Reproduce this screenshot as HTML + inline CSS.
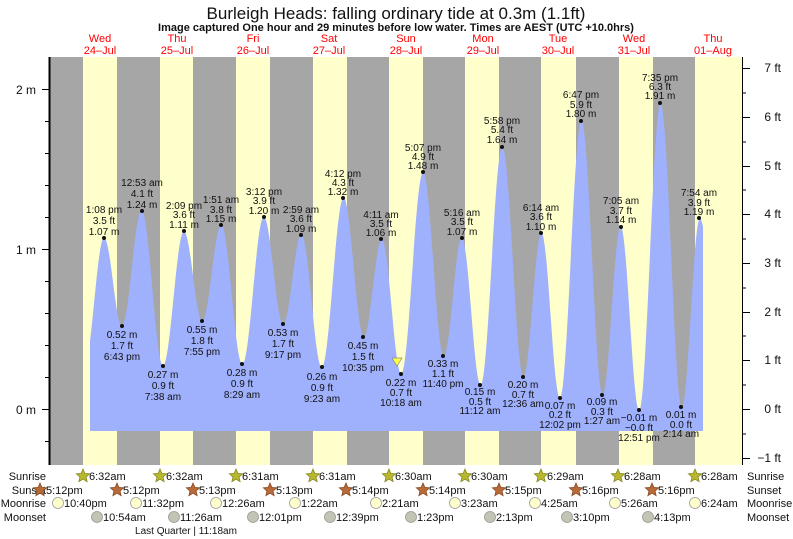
<!DOCTYPE html>
<html><head><meta charset="utf-8"><style>
body{margin:0;background:#fff;}
svg{display:block;font-family:"Liberation Sans",sans-serif;}
.l{font-size:10px;fill:#111;text-anchor:middle}
.r{font-size:11px;fill:#111}
</style></head><body>
<svg width="793" height="539" viewBox="0 0 793 539" xmlns="http://www.w3.org/2000/svg">
<defs>
<clipPath id="cp"><rect x="90" y="0" width="613" height="431"/></clipPath>
<polygon id="st" points="0,-7 1.88,-2.59 6.66,-2.16 3.04,0.99 4.11,5.66 0,3.2 -4.11,5.66 -3.04,0.99 -6.66,-2.16 -1.88,-2.59"/>
</defs>
<rect width="793" height="539" fill="#fff"/>
<text x="396" y="19" font-size="17" text-anchor="middle" fill="#111">Burleigh Heads: falling  ordinary tide at 0.3m (1.1ft)</text>
<text x="396" y="31" font-size="11" font-weight="bold" text-anchor="middle" fill="#111">Image captured One hour and 29 minutes before low water. Times are AEST (UTC +10.0hrs)</text>
<g font-size="11" fill="#f00" text-anchor="middle">
<text x="100" y="42">Wed</text><text x="100" y="54">24–Jul</text>
<text x="177" y="42">Thu</text><text x="177" y="54">25–Jul</text>
<text x="253" y="42">Fri</text><text x="253" y="54">26–Jul</text>
<text x="329" y="42">Sat</text><text x="329" y="54">27–Jul</text>
<text x="406" y="42">Sun</text><text x="406" y="54">28–Jul</text>
<text x="483" y="42">Mon</text><text x="483" y="54">29–Jul</text>
<text x="558" y="42">Tue</text><text x="558" y="54">30–Jul</text>
<text x="634" y="42">Wed</text><text x="634" y="54">31–Jul</text>
<text x="713" y="42">Thu</text><text x="713" y="54">01–Aug</text>
</g>
<rect x="50" y="57" width="692" height="408" fill="#ffffcc"/>
<g fill="#a6a6a6">
<rect x="50" y="57" width="33" height="408"/>
<rect x="117" y="57" width="43" height="408"/>
<rect x="193" y="57" width="43" height="408"/>
<rect x="270" y="57" width="43" height="408"/>
<rect x="347" y="57" width="42" height="408"/>
<rect x="423" y="57" width="42" height="408"/>
<rect x="499" y="57" width="42" height="408"/>
<rect x="576" y="57" width="43" height="408"/>
<rect x="653" y="57" width="42" height="408"/>
</g>
<path clip-path="url(#cp)" fill="#9fb0fc" d="M84.5,431 L84.5,364.2
C91.6,364.2 97.0,237.8 104.1,237.8
C110.5,237.8 115.5,325.8 121.9,325.8
C129.0,325.8 134.5,210.6 141.6,210.6
C149.3,210.6 155.4,365.8 163.1,365.8
C170.6,365.8 176.4,231.4 183.9,231.4
C190.5,231.4 195.7,321 202.3,321
C209.1,321 214.4,225 221.2,225
C228.8,225 234.8,364.2 242.4,364.2
C250.1,364.2 256.1,217 263.8,217
C270.8,217 276.2,324.2 283.2,324.2
C289.8,324.2 294.8,234.6 301.4,234.6
C308.7,234.6 314.5,367.4 321.8,367.4
C329.6,367.4 335.8,197.8 343.6,197.8
C350.9,197.8 356.6,337 363.9,337
C370.3,337 375.4,239.4 381.8,239.4
C388.8,239.4 394.3,373.8 401.3,373.8
C409.1,373.8 415.3,172.2 423.1,172.2
C430.6,172.2 436.4,356.2 443.9,356.2
C450.3,356.2 455.4,237.8 461.8,237.8
C468.6,237.8 473.9,385 480.7,385
C488.5,385 494.5,146.6 502.3,146.6
C509.9,146.6 515.9,377 523.5,377
C529.9,377 535.0,233 541.4,233
C548.1,233 553.2,397.8 559.9,397.8
C567.7,397.8 573.7,121 581.5,121
C589.1,121 595.1,394.6 602.7,394.6
C609.2,394.6 614.2,226.6 620.7,226.6
C627.3,226.6 632.5,410.6 639.1,410.6
C646.8,410.6 652.9,103.4 660.6,103.4
C668.2,103.4 674.2,407.4 681.8,407.4
C688.3,407.4 693.4,218.6 699.9,218.6
C706.9,218.6 712.3,345 719.3,345
L719.3,431 Z"/>
<line x1="49.5" y1="57" x2="49.5" y2="465" stroke="#000" stroke-width="2"/>
<line x1="742.5" y1="57" x2="742.5" y2="465" stroke="#000" stroke-width="1"/>
<g stroke="#000" stroke-width="1">
<line x1="42" y1="89.5" x2="49" y2="89.5"/><line x1="42" y1="249.5" x2="49" y2="249.5"/><line x1="42" y1="409.5" x2="49" y2="409.5"/>
<line x1="45" y1="121.5" x2="49" y2="121.5"/><line x1="45" y1="153.5" x2="49" y2="153.5"/><line x1="45" y1="185.5" x2="49" y2="185.5"/><line x1="45" y1="217.5" x2="49" y2="217.5"/>
<line x1="45" y1="281.5" x2="49" y2="281.5"/><line x1="45" y1="313.5" x2="49" y2="313.5"/><line x1="45" y1="345.5" x2="49" y2="345.5"/><line x1="45" y1="377.5" x2="49" y2="377.5"/><line x1="45" y1="441.5" x2="49" y2="441.5"/>
<line x1="743" y1="68.5" x2="750" y2="68.5"/><line x1="743" y1="117.5" x2="750" y2="117.5"/><line x1="743" y1="166.5" x2="750" y2="166.5"/><line x1="743" y1="214.5" x2="750" y2="214.5"/><line x1="743" y1="263.5" x2="750" y2="263.5"/><line x1="743" y1="312.5" x2="750" y2="312.5"/><line x1="743" y1="360.5" x2="750" y2="360.5"/><line x1="743" y1="409.5" x2="750" y2="409.5"/><line x1="743" y1="458.5" x2="750" y2="458.5"/>
<line x1="743" y1="93" x2="746" y2="93"/><line x1="743" y1="142" x2="746" y2="142"/><line x1="743" y1="190" x2="746" y2="190"/><line x1="743" y1="239" x2="746" y2="239"/><line x1="743" y1="288" x2="746" y2="288"/><line x1="743" y1="336" x2="746" y2="336"/><line x1="743" y1="385" x2="746" y2="385"/><line x1="743" y1="434" x2="746" y2="434"/>
</g>
<g font-size="12" fill="#111" text-anchor="end">
<text x="36" y="94">2 m</text><text x="36" y="254">1 m</text><text x="36" y="414">0 m</text>
</g>
<g font-size="12" fill="#111" text-anchor="end">
<text x="781" y="72">7 ft</text><text x="781" y="121">6 ft</text><text x="781" y="170">5 ft</text><text x="781" y="218">4 ft</text><text x="781" y="267">3 ft</text><text x="781" y="316">2 ft</text><text x="781" y="364">1 ft</text><text x="781" y="413">0 ft</text><text x="781" y="462">−1 ft</text>
</g>
<polygon points="392,358 402,358 397,366" fill="#ffff44" stroke="#888" stroke-width="0.7"/>
<g class="l">
<circle cx="104" cy="238" r="2"/><text x="104" y="213">1:08 pm</text><text x="104" y="224">3.5 ft</text><text x="104" y="235">1.07 m</text>
<circle cx="122" cy="326" r="2"/><text x="122" y="338">0.52 m</text><text x="122" y="349">1.7 ft</text><text x="122" y="360">6:43 pm</text>
<circle cx="142" cy="211" r="2"/><text x="142" y="186">12:53 am</text><text x="142" y="197">4.1 ft</text><text x="142" y="208">1.24 m</text>
<circle cx="163" cy="366" r="2"/><text x="163" y="378">0.27 m</text><text x="163" y="389">0.9 ft</text><text x="163" y="400">7:38 am</text>
<circle cx="184" cy="231" r="2"/><text x="184" y="209">2:09 pm</text><text x="184" y="218">3.6 ft</text><text x="184" y="228">1.11 m</text>
<circle cx="202" cy="321" r="2"/><text x="202" y="333">0.55 m</text><text x="202" y="344">1.8 ft</text><text x="202" y="355">7:55 pm</text>
<circle cx="221" cy="225" r="2"/><text x="221" y="203">1:51 am</text><text x="221" y="213">3.8 ft</text><text x="221" y="222">1.15 m</text>
<circle cx="242" cy="364" r="2"/><text x="242" y="376">0.28 m</text><text x="242" y="387">0.9 ft</text><text x="242" y="398">8:29 am</text>
<circle cx="264" cy="217" r="2"/><text x="264" y="195">3:12 pm</text><text x="264" y="204">3.9 ft</text><text x="264" y="214">1.20 m</text>
<circle cx="283" cy="324" r="2"/><text x="283" y="336">0.53 m</text><text x="283" y="347">1.7 ft</text><text x="283" y="358">9:17 pm</text>
<circle cx="301" cy="235" r="2"/><text x="301" y="213">2:59 am</text><text x="301" y="222">3.6 ft</text><text x="301" y="232">1.09 m</text>
<circle cx="322" cy="367" r="2"/><text x="322" y="380">0.26 m</text><text x="322" y="391">0.9 ft</text><text x="322" y="402">9:23 am</text>
<circle cx="343" cy="198" r="2"/><text x="343" y="177">4:12 pm</text><text x="343" y="186">4.3 ft</text><text x="343" y="195">1.32 m</text>
<circle cx="363" cy="337" r="2"/><text x="363" y="349">0.45 m</text><text x="363" y="360">1.5 ft</text><text x="363" y="371">10:35 pm</text>
<circle cx="381" cy="239" r="2"/><text x="381" y="218">4:11 am</text><text x="381" y="227">3.5 ft</text><text x="381" y="236">1.06 m</text>
<circle cx="401" cy="374" r="2"/><text x="401" y="386">0.22 m</text><text x="401" y="396">0.7 ft</text><text x="401" y="406">10:18 am</text>
<circle cx="423" cy="172" r="2"/><text x="423" y="151">5:07 pm</text><text x="423" y="160">4.9 ft</text><text x="423" y="169">1.48 m</text>
<circle cx="443" cy="356" r="2"/><text x="443" y="367">0.33 m</text><text x="443" y="377">1.1 ft</text><text x="443" y="387">11:40 pm</text>
<circle cx="462" cy="238" r="2"/><text x="462" y="216">5:16 am</text><text x="462" y="225">3.5 ft</text><text x="462" y="235">1.07 m</text>
<circle cx="480" cy="385" r="2"/><text x="480" y="395">0.15 m</text><text x="480" y="405">0.5 ft</text><text x="480" y="414">11:12 am</text>
<circle cx="502" cy="147" r="2"/><text x="502" y="124">5:58 pm</text><text x="502" y="133">5.4 ft</text><text x="502" y="143">1.64 m</text>
<circle cx="523" cy="377" r="2"/><text x="523" y="388">0.20 m</text><text x="523" y="398">0.7 ft</text><text x="523" y="407">12:36 am</text>
<circle cx="541" cy="233" r="2"/><text x="541" y="211">6:14 am</text><text x="541" y="220">3.6 ft</text><text x="541" y="230">1.10 m</text>
<circle cx="560" cy="398" r="2"/><text x="560" y="409">0.07 m</text><text x="560" y="418">0.2 ft</text><text x="560" y="428">12:02 pm</text>
<circle cx="581" cy="121" r="2"/><text x="581" y="98">6:47 pm</text><text x="581" y="108">5.9 ft</text><text x="581" y="117">1.80 m</text>
<circle cx="602" cy="395" r="2"/><text x="602" y="405">0.09 m</text><text x="602" y="415">0.3 ft</text><text x="602" y="424">1:27 am</text>
<circle cx="621" cy="227" r="2"/><text x="621" y="204">7:05 am</text><text x="621" y="214">3.7 ft</text><text x="621" y="223">1.14 m</text>
<circle cx="639" cy="410" r="2"/><text x="639" y="421">−0.01 m</text><text x="639" y="431">−0.0 ft</text><text x="639" y="441">12:51 pm</text>
<circle cx="660" cy="103" r="2"/><text x="660" y="81">7:35 pm</text><text x="660" y="90">6.3 ft</text><text x="660" y="99">1.91 m</text>
<circle cx="681" cy="407" r="2"/><text x="681" y="418">0.01 m</text><text x="681" y="428">0.0 ft</text><text x="681" y="437">2:14 am</text>
<circle cx="699" cy="218" r="2"/><text x="699" y="196">7:54 am</text><text x="699" y="206">3.9 ft</text><text x="699" y="215">1.19 m</text>
</g>
<g class="r">
<text x="46" y="480" text-anchor="end">Sunrise</text>
<text x="46" y="494" text-anchor="end">Sunset</text>
<text x="46" y="507" text-anchor="end">Moonrise</text>
<text x="46" y="521" text-anchor="end">Moonset</text>
<text x="747" y="480">Sunrise</text><text x="747" y="494">Sunset</text><text x="747" y="507">Moonrise</text><text x="747" y="521">Moonset</text>
<text x="186" y="534" text-anchor="middle" font-size="10">Last Quarter | 11:18am</text>
</g>
<g fill="#b8b830" stroke="#888820" stroke-width="0.8">
<use href="#st" x="83" y="476"/><use href="#st" x="160" y="476"/><use href="#st" x="236" y="476"/><use href="#st" x="313" y="476"/><use href="#st" x="389" y="476"/><use href="#st" x="465" y="476"/><use href="#st" x="541" y="476"/><use href="#st" x="618" y="476"/><use href="#st" x="695" y="476"/>
</g>
<g fill="#b86a38" stroke="#884a20" stroke-width="0.8">
<use href="#st" x="40" y="490"/><use href="#st" x="117" y="490"/><use href="#st" x="193" y="490"/><use href="#st" x="270" y="490"/><use href="#st" x="346" y="490"/><use href="#st" x="423" y="490"/><use href="#st" x="499" y="490"/><use href="#st" x="576" y="490"/><use href="#st" x="652" y="490"/>
</g>
<g fill="#ffffcc" stroke="#999" stroke-width="0.8">
<circle cx="58" cy="503" r="5.5"/><circle cx="136" cy="503" r="5.5"/><circle cx="216" cy="503" r="5.5"/><circle cx="295" cy="503" r="5.5"/><circle cx="376" cy="503" r="5.5"/><circle cx="455" cy="503" r="5.5"/><circle cx="535" cy="503" r="5.5"/><circle cx="615" cy="503" r="5.5"/><circle cx="695" cy="503" r="5.5"/>
</g>
<g fill="#c4c4b4" stroke="#999" stroke-width="0.8">
<circle cx="97" cy="517" r="5.5"/><circle cx="174" cy="517" r="5.5"/><circle cx="253" cy="517" r="5.5"/><circle cx="330" cy="517" r="5.5"/><circle cx="411" cy="517" r="5.5"/><circle cx="490" cy="517" r="5.5"/><circle cx="567" cy="517" r="5.5"/><circle cx="648" cy="517" r="5.5"/>
</g>
<g class="r" font-size="10.5">
<text x="89" y="480">6:32am</text><text x="166" y="480">6:32am</text><text x="242" y="480">6:31am</text><text x="319" y="480">6:31am</text><text x="395" y="480">6:30am</text><text x="471" y="480">6:30am</text><text x="547" y="480">6:29am</text><text x="624" y="480">6:28am</text><text x="701" y="480">6:28am</text>
<text x="46" y="494">5:12pm</text><text x="123" y="494">5:12pm</text><text x="199" y="494">5:13pm</text><text x="276" y="494">5:13pm</text><text x="352" y="494">5:14pm</text><text x="429" y="494">5:14pm</text><text x="505" y="494">5:15pm</text><text x="582" y="494">5:16pm</text><text x="658" y="494">5:16pm</text>
<text x="64" y="507">10:40pm</text><text x="142" y="507">11:32pm</text><text x="222" y="507">12:26am</text><text x="301" y="507">1:22am</text><text x="382" y="507">2:21am</text><text x="461" y="507">3:23am</text><text x="541" y="507">4:25am</text><text x="621" y="507">5:26am</text><text x="701" y="507">6:24am</text>
<text x="103" y="521">10:54am</text><text x="180" y="521">11:26am</text><text x="259" y="521">12:01pm</text><text x="336" y="521">12:39pm</text><text x="417" y="521">1:23pm</text><text x="496" y="521">2:13pm</text><text x="573" y="521">3:10pm</text><text x="654" y="521">4:13pm</text>
</g>
</svg>
</body></html>
